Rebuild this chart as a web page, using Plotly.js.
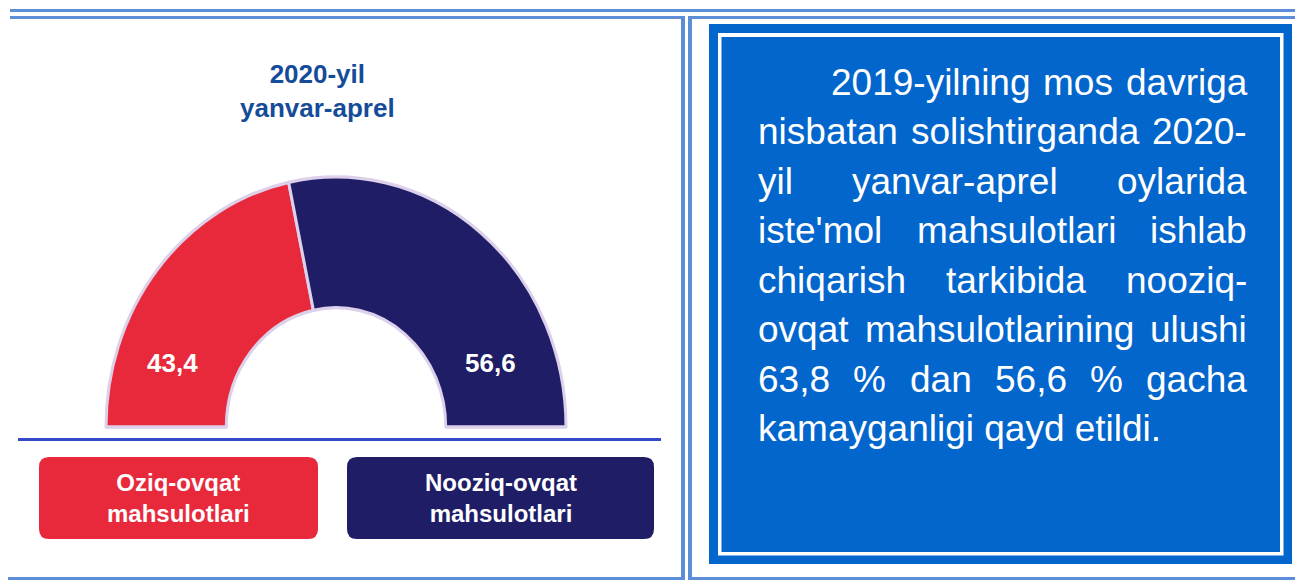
<!DOCTYPE html>
<html><head><meta charset="utf-8">
<script src="https://cdn.plot.ly/plotly-3.0.1.min.js"></script>
<style>
html,body{margin:0;padding:0;overflow:hidden;background:#fff;width:1295px;height:580px}
#chart{width:1295px;height:700px}
</style>
</head><body><div id="chart"></div>
<script>
// ---- data ----
const categories = ['Oziq-ovqat mahsulotlari', 'Nooziq-ovqat mahsulotlari'];
const shares2020 = [43.4, 56.6];
const sliceColors = ['#e8293c', '#1f1d65'];
const titleLines = ['2020-yil', 'yanvar-aprel'];
const legendLabels = [['Oziq-ovqat', 'mahsulotlari'], ['Nooziq-ovqat', 'mahsulotlari']];
const noteLines = [
  ['2019-yilning', 'mos', 'davriga'],
  ['nisbatan', 'solishtirganda', '2020-'],
  ['yil', 'yanvar-aprel', 'oylarida'],
  ["iste'mol", 'mahsulotlari', 'ishlab'],
  ['chiqarish', 'tarkibida', 'nooziq-'],
  ['ovqat', 'mahsulotlarining', 'ulushi'],
  ['63,8', '%', 'dan', '56,6', '%', 'gacha'],
  ['kamayganligi', 'qayd', 'etildi.']
];

// ---- layout helpers ----
const W = 1295, H = 700;
const X = p => p / W;
const Y = p => 1 - p / H;
const FONT = 'Liberation Sans, Arial, sans-serif';
const LINE_BLUE = '#5b8ed6';
const BOX_BLUE = '#0366cc';

function rect(x0, y0, x1, y1, color) {
  return {type: 'rect', xref: 'paper', yref: 'paper', x0: X(x0), x1: X(x1), y0: Y(y1), y1: Y(y0),
          fillcolor: color, line: {width: 0}, layer: 'below'};
}
function roundRect(x0, y0, x1, y1, r, color) {
  const p = (x, y) => X(x) + ',' + Y(y);
  const path = 'M' + p(x0 + r, y0) + ' L' + p(x1 - r, y0) + ' Q' + p(x1, y0) + ' ' + p(x1, y0 + r) +
    ' L' + p(x1, y1 - r) + ' Q' + p(x1, y1) + ' ' + p(x1 - r, y1) +
    ' L' + p(x0 + r, y1) + ' Q' + p(x0, y1) + ' ' + p(x0, y1 - r) +
    ' L' + p(x0, y0 + r) + ' Q' + p(x0, y0) + ' ' + p(x0 + r, y0) + ' Z';
  return {type: 'path', xref: 'paper', yref: 'paper', path: path, fillcolor: color, line: {width: 0}, layer: 'below'};
}
function ann(text, x, y, size, color, xanchor) {
  return {text: text, xref: 'paper', yref: 'paper', x: X(x), y: Y(y), xanchor: xanchor || 'center',
          yanchor: 'middle', showarrow: false, borderpad: 0, align: 'center',
          font: {family: FONT, size: size, color: color}};
}
const fmt = v => v.toFixed(1).replace('.', ',');

// ---- pie (half donut) ----
const total = shares2020.reduce((a, b) => a + b, 0);
const R = 230, CX = 336, CY = 427, STRETCH_Y = 1.087;
const trace = {
  type: 'pie',
  values: [...shares2020, total],
  labels: [...categories, 'hidden'],
  sort: false,
  direction: 'clockwise',
  rotation: -90,
  hole: 0.477,
  textinfo: 'none',
  hoverinfo: 'none',
  marker: {
    colors: [...sliceColors, 'rgba(0,0,0,0)'],
    line: {color: ['#dcd0ea', '#dcd0ea', 'rgba(0,0,0,0)'], width: [3, 3, 0]}
  },
  domain: {x: [X(CX - R), X(CX + R)], y: [Y(CY + R), Y(CY - R)]}
};

// ---- shapes ----
const shapes = [
  rect(10, 9, 1295, 12, LINE_BLUE),
  rect(10, 16, 685, 19, LINE_BLUE),
  rect(688, 16, 1295, 19, LINE_BLUE),
  rect(681, 16, 685, 580, LINE_BLUE),
  rect(688, 16, 692, 580, LINE_BLUE),
  rect(8, 577, 685, 580, LINE_BLUE),
  rect(688, 577, 1295, 580, LINE_BLUE),
  rect(709, 24, 1292, 564, BOX_BLUE),
  rect(718, 33, 1283.5, 555.5, '#ffffff'),
  rect(721.5, 37, 1280, 552, BOX_BLUE),
  rect(18, 438, 661, 441, '#3649c8'),
  roundRect(39, 457, 318, 539, 10, sliceColors[0]),
  roundRect(347, 457, 654, 539, 10, sliceColors[1])
];

// ---- annotations ----
const annotations = [];
annotations.push(ann(titleLines.map(t => '<b>' + t + '</b>').join('<br>'), 317, 91, 26, '#154c9a'));
const labelPos = [[172, 363], [490, 363]];
shares2020.forEach((v, i) => annotations.push(ann('<b>' + fmt(v) + '</b>', labelPos[i][0], labelPos[i][1], 26, '#ffffff')));
const boxCenters = [[178.5, 498], [500.5, 498]];
legendLabels.forEach((l, i) => annotations.push(ann(l.map(t => '<b>' + t + '</b>').join('<br>'), boxCenters[i][0], boxCenters[i][1], 24, '#ffffff')));

// justified paragraph
const NOTE_SIZE = 37;
const ctx = document.createElement('canvas').getContext('2d');
ctx.font = NOTE_SIZE + 'px "Liberation Sans"';
const left = 757, right = 1246, indentLeft = 830, base0 = 95, pitch = 49.5;
noteLines.forEach((words, i) => {
  const yc = base0 + i * pitch - 12.8;
  const lx = i === 0 ? indentLeft : left;
  if (i === noteLines.length - 1) {
    annotations.push(ann(words.join(' '), lx, yc, NOTE_SIZE, '#ffffff', 'left'));
    return;
  }
  const ws = words.map(w => ctx.measureText(w).width);
  const sum = ws.reduce((a, b) => a + b, 0);
  const gap = (right - lx - sum) / (words.length - 1);
  let x = lx;
  words.forEach((w, j) => {
    annotations.push(ann(w, x, yc, NOTE_SIZE, '#ffffff', 'left'));
    x += ws[j] + gap;
  });
});

Plotly.newPlot('chart', [trace], {
  width: W, height: H,
  margin: {l: 0, r: 0, t: 0, b: 0},
  paper_bgcolor: '#ffffff',
  showlegend: false,
  shapes: shapes,
  annotations: annotations
}, {staticPlot: true, displayModeBar: false}).then(gd => {
  // the reference half-ring is slightly taller than wide
  const layer = gd.querySelector('.pielayer');
  if (layer) layer.setAttribute('transform',
    'translate(0,' + CY + ') scale(1,' + STRETCH_Y + ') translate(0,' + (-CY) + ')');
});
</script>
</body></html>
